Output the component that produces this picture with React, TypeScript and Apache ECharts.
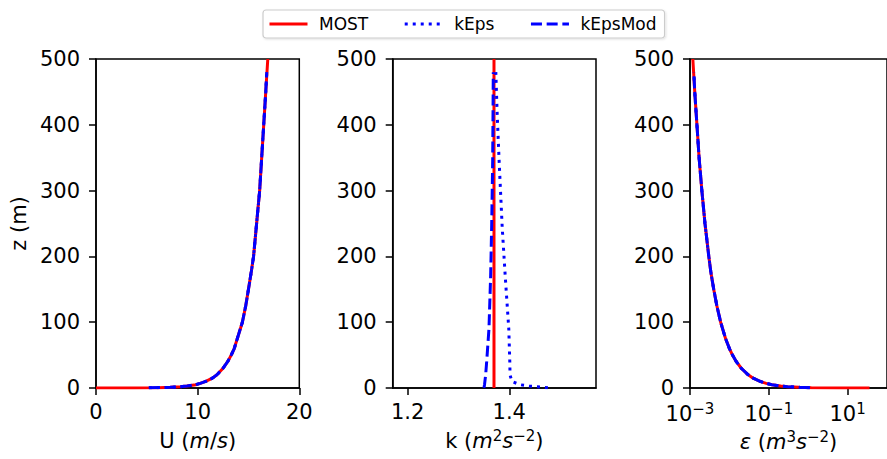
import React, { useEffect, useRef } from 'react';
import * as echarts from 'echarts';

// ---- data ----
const MOST_Z = [0, 0.02, 0.1, 0.5, 1, 2, 3, 5, 7, 10, 15, 20, 30, 40, 50, 60, 75, 100, 125, 150, 175, 200, 250, 300, 350, 400, 450, 500];
const MOST_U = [0, 1.2, 3.7, 6.2, 7.3, 8.3, 8.95, 9.8, 10.25, 10.8, 11.45, 11.9, 12.5, 12.95, 13.3, 13.6, 13.9, 14.4, 14.73, 15.0, 15.26, 15.5, 15.8, 16.1, 16.3, 16.5, 16.7, 16.9];
const MOST_EPS = [36, 18, 6, 1.2, 0.6, 0.3, 0.2, 0.12, 0.086, 0.06, 0.04, 0.03, 0.02, 0.015, 0.012, 0.01, 0.008, 0.006, 0.0048, 0.004, 0.0034, 0.003, 0.0024, 0.002, 0.0017, 0.0015, 0.00132, 0.00118];
const MOST_K_Z = [0, 500];
const MOST_K = [1.3699, 1.3699];

const MODEL_Z = [0.3, 1, 2, 3, 5, 7, 10, 15, 20, 30, 40, 50, 60, 75, 100, 125, 150, 175, 200, 250, 300, 350, 400, 450, 480];
const KEPS_U = [5.2, 7.3, 8.3, 8.95, 9.8, 10.25, 10.8, 11.45, 11.9, 12.5, 12.95, 13.3, 13.6, 13.9, 14.4, 14.73, 15.0, 15.26, 15.5, 15.8, 16.1, 16.3, 16.5, 16.7, 16.8];
const KEPSMOD_U = [5.2, 7.3, 8.3, 8.95, 9.8, 10.25, 10.8, 11.45, 11.9, 12.5, 12.95, 13.3, 13.6, 13.9, 14.4, 14.73, 15.0, 15.26, 15.5, 15.8, 16.1, 16.3, 16.5, 16.7, 16.8];
const KEPS_EPS = [1.1, 0.6, 0.3, 0.2, 0.12, 0.086, 0.06, 0.04, 0.03, 0.02, 0.015, 0.012, 0.01, 0.008, 0.006, 0.0048, 0.004, 0.0034, 0.003, 0.0024, 0.002, 0.0017, 0.0015, 0.00132, 0.00125];
const KEPSMOD_EPS = [1.1, 0.6, 0.3, 0.2, 0.12, 0.086, 0.06, 0.04, 0.03, 0.02, 0.015, 0.012, 0.01, 0.008, 0.006, 0.0048, 0.004, 0.0034, 0.003, 0.0024, 0.002, 0.0017, 0.0015, 0.00132, 0.00125];

const K_Z = [0.3, 1, 2, 3, 5, 10, 20, 40, 90, 170, 245, 345, 420, 480];
const KEPS_K = [1.476, 1.468, 1.455, 1.439, 1.421, 1.405, 1.4015, 1.401, 1.399, 1.392, 1.386, 1.38, 1.376, 1.3735];
const KEPSMOD_K = [1.35, 1.3503, 1.3506, 1.3508, 1.3512, 1.352, 1.3535, 1.3555, 1.36, 1.3633, 1.3653, 1.3673, 1.368, 1.3685];

const SERIES_NAMES = ['MOST', 'kEps', 'kEpsMod'];
const Z_TICKS = { min: 0, max: 500, interval: 100 };
const U_RANGE = { min: 0, max: 20, interval: 10 };
const K_RANGE = { min: 1.1705, max: 1.5707 };
const K_TICKS = [1.2, 1.4];
const EPS_RANGE = { min: 0.001, max: 100 };
const EPS_TICKS = [0.001, 0.1, 10];

const FONT = 'DejaVu Sans';
const BLACK = '#000';

const zip = (xs: number[], zs: number[]) => xs.map((x, i) => [x, zs[i]]);

const richStyles = {
  n: { fontSize: 21, fontFamily: FONT, color: BLACK, lineHeight: 26 },
  i: { fontSize: 21, fontFamily: FONT, color: BLACK, fontStyle: 'italic', lineHeight: 26 },
  p: { fontSize: 15, fontFamily: FONT, color: BLACK, verticalAlign: 'top', lineHeight: 14 },
  b: { fontSize: 21, fontFamily: FONT, color: BLACK, lineHeight: 26 },
};

const axisBase = {
  axisLine: { show: true, lineStyle: { color: BLACK, width: 1.5 } },
  axisTick: { show: true, inside: false, length: 7, lineStyle: { color: BLACK, width: 1.5 } },
  splitLine: { show: false },
};

const labelBase = { color: BLACK, fontSize: 21, fontFamily: FONT };

const styles: Record<string, any> = {
  MOST: { color: '#ff0000', width: 3, type: 'solid' },
  kEps: { color: '#0000ff', width: 3, type: [3, 5], cap: 'butt' },
  kEpsMod: { color: '#0000ff', width: 3, type: [11, 4.7], cap: 'butt' },
};

function lineSeries(name: string, data: number[][], idx: number) {
  return {
    type: 'line',
    name,
    xAxisIndex: idx,
    yAxisIndex: idx,
    data,
    showSymbol: false,
    symbol: 'none',
    color: styles[name].color,
    lineStyle: styles[name],
    emphasis: { disabled: true },
  };
}

function buildOption() {
  const grids = [96, 392.7, 690].map((left) => ({
    left,
    top: 59,
    width: 203.3,
    height: 329,
    show: true,
    borderColor: BLACK,
    borderWidth: 1.5,
    backgroundColor: 'transparent',
  }));

  const yAxes = [0, 1, 2].map((i) => ({
    type: 'value',
    gridIndex: i,
    ...Z_TICKS,
    ...axisBase,
    axisLabel: { ...labelBase, margin: 16 },
    ...(i === 0
      ? {
          name: 'z (m)',
          nameLocation: 'middle',
          nameGap: 67,
          nameTextStyle: { fontSize: 21, fontFamily: FONT, color: BLACK },
        }
      : {}),
  }));

  const xAxes = [
    {
      type: 'value',
      gridIndex: 0,
      ...U_RANGE,
      ...axisBase,
      axisLabel: { ...labelBase, margin: 13 },
      name: '{n|U (}{i|m}{n|/}{i|s}{n|)}',
      nameLocation: 'middle',
      nameGap: 40,
      nameTextStyle: { rich: richStyles },
    },
    {
      type: 'value',
      gridIndex: 1,
      ...K_RANGE,
      ...axisBase,
      axisTick: { ...axisBase.axisTick, customValues: K_TICKS },
      axisLabel: {
        ...labelBase,
        margin: 13,
        customValues: K_TICKS,
        formatter: (v: number) => v.toFixed(1),
      },
      name: '{n|k (}{i|m}{p|2}{i|s}{p|−2}{n|)}',
      nameLocation: 'middle',
      nameGap: 40,
      nameTextStyle: { rich: richStyles },
    },
    {
      type: 'log',
      logBase: 10,
      gridIndex: 2,
      ...EPS_RANGE,
      ...axisBase,
      axisTick: { ...axisBase.axisTick, customValues: EPS_TICKS },
      axisLabel: {
        ...labelBase,
        margin: 13,
        customValues: EPS_TICKS,
        formatter: (v: number) => {
          const e = Math.round(Math.log10(v));
          return `{b|10}{p|${e < 0 ? '−' : ''}${Math.abs(e)}}`;
        },
        rich: richStyles,
      },
      name: '{i|ε}{n| (}{i|m}{p|3}{i|s}{p|−2}{n|)}',
      nameLocation: 'middle',
      nameGap: 40,
      nameTextStyle: { rich: richStyles },
    },
  ];

  const series = [
    lineSeries('MOST', zip(MOST_U, MOST_Z), 0),
    lineSeries('kEps', zip(KEPS_U, MODEL_Z), 0),
    lineSeries('kEpsMod', zip(KEPSMOD_U, MODEL_Z), 0),
    lineSeries('MOST', zip(MOST_K, MOST_K_Z), 1),
    lineSeries('kEps', zip(KEPS_K, K_Z), 1),
    lineSeries('kEpsMod', zip(KEPSMOD_K, K_Z), 1),
    lineSeries('MOST', zip(MOST_EPS, MOST_Z), 2),
    lineSeries('kEps', zip(KEPS_EPS, MODEL_Z), 2),
    lineSeries('kEpsMod', zip(KEPSMOD_EPS, MODEL_Z), 2),
  ];

  return {
    animation: false,
    backgroundColor: '#fff',
    textStyle: { fontFamily: FONT },
    legend: {
      data: SERIES_NAMES,
      left: 263,
      top: 10,
      orient: 'horizontal',
      padding: [5, 8, 5, 5],
      itemWidth: 38,
      itemHeight: 14,
      itemGap: 35,
      borderColor: '#cccccc',
      borderWidth: 1.2,
      borderRadius: 3,
      backgroundColor: '#fff',
      shadowColor: 'rgba(0,0,0,0.12)',
      shadowBlur: 2,
      shadowOffsetX: 1,
      shadowOffsetY: 1,
      selectedMode: false,
      itemStyle: { opacity: 0 },
      lineStyle: { width: 3 },
      textStyle: { fontSize: 17, fontFamily: FONT, color: BLACK, padding: [0, 0, 0, 6.5], lineHeight: 18 },
    },
    grid: grids,
    xAxis: xAxes,
    yAxis: yAxes,
    series,
  };
}

export default function App() {
  const ref = useRef<HTMLDivElement>(null);
  useEffect(() => {
    document.body.style.margin = '0';
    const chart = echarts.init(ref.current!, null, { renderer: 'svg' });
    chart.setOption(buildOption() as any);
    return () => chart.dispose();
  }, []);
  return <div ref={ref} style={{ width: 887, height: 459 }} />;
}
